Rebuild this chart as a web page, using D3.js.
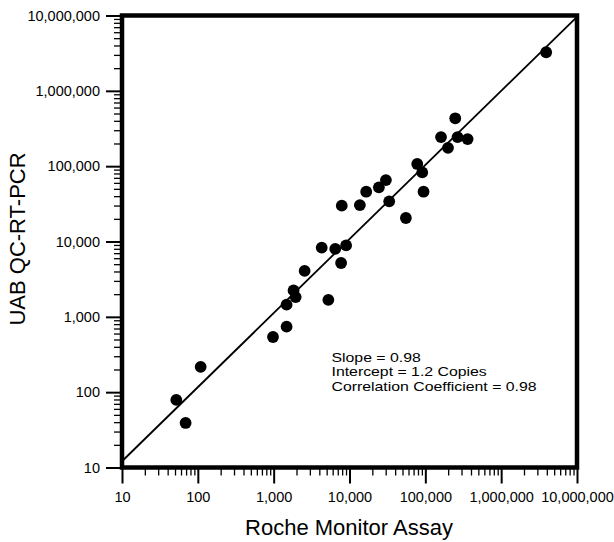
<!DOCTYPE html>
<html>
<head>
<meta charset="utf-8">
<script src="https://cdn.jsdelivr.net/npm/d3@7"></script>
<style>
  html, body { margin: 0; padding: 0; background: #fff; }
  svg { display: block; }
  text { font-family: "Liberation Sans", Arial, Helvetica, sans-serif; fill: #000; }
</style>
</head>
<body>
<script>
// ---- Data ----
const rocheMonitor = [52, 69, 109, 980, 1480, 1480, 1830, 1950, 2560, 5260,
  7750, 4300, 6490, 9020, 7910, 13700, 16600, 24400, 30200, 33400,
  55400, 78200, 91000, 94700, 199000, 161000, 266000, 361000, 248000, 3920000];
const uabQcRtPcr = [79, 39, 217, 540, 740, 1450, 2240, 1830, 4070, 1680,
  5180, 8280, 7980, 8870, 29900, 30400, 45800, 52300, 65300, 34100,
  20500, 107000, 82700, 45800, 175000, 243000, 243000, 229000, 432000, 3250000];
const fitLineX = [10, 10000000];
const fitLineY = [12.1, 9600000];
const tickValues = [10, 100, 1000, 10000, 100000, 1000000, 10000000];
const tickLabels = ["10", "100", "1,000", "10,000", "100,000", "1,000,000", "10,000,000"];
const statsLines = ["Slope = 0.98", "Intercept = 1.2 Copies", "Correlation Coefficient = 0.98"];
const xTitle = "Roche Monitor Assay";
const yTitle = "UAB QC-RT-PCR";

// ---- Layout ----
const W = 614, H = 542;
const mLeft = 122, mRight = 577, mTop = 15.5, mBottom = 467.5;

const svg = d3.select("body").append("svg").attr("width", W).attr("height", H);

const x = d3.scaleLog().domain([10, 1e7]).range([mLeft, mRight]);
const y = d3.scaleLog().domain([10, 1e7]).range([mBottom, mTop]);

// minor tick values 2..9 per decade
const minor = [];
for (let d = 10; d < 1e7; d *= 10) for (let m = 2; m <= 9; m++) minor.push(d * m);

// Y axis
const yAxis = svg.append("g").attr("transform", `translate(${mLeft},0)`);
yAxis.call(d3.axisLeft(y).tickValues(tickValues).tickFormat((d, i) => tickLabels[i])
  .tickSize(16).tickPadding(6));
yAxis.select(".domain").remove();
yAxis.attr("font-family", null).attr("font-size", null);
yAxis.selectAll(".tick line").attr("stroke", "#000").attr("stroke-width", 2);
yAxis.selectAll(".tick text").style("font-size", "14.5px");
const yMinor = svg.append("g").attr("transform", `translate(${mLeft},0)`);
yMinor.call(d3.axisLeft(y).tickValues(minor).tickFormat("").tickSize(8));
yMinor.select(".domain").remove();
yMinor.selectAll(".tick line").attr("stroke", "#000").attr("stroke-width", 1.3);

// X axis
const xAxis = svg.append("g").attr("transform", `translate(0,${mBottom})`);
xAxis.call(d3.axisBottom(x).tickValues(tickValues).tickFormat((d, i) => tickLabels[i])
  .tickSize(16).tickPadding(8));
xAxis.select(".domain").remove();
xAxis.attr("font-family", null).attr("font-size", null);
xAxis.selectAll(".tick line").attr("stroke", "#000").attr("stroke-width", 2);
xAxis.selectAll(".tick text").style("font-size", "14.5px");
const xMinor = svg.append("g").attr("transform", `translate(0,${mBottom})`);
xMinor.call(d3.axisBottom(x).tickValues(minor).tickFormat("").tickSize(8));
xMinor.select(".domain").remove();
xMinor.selectAll(".tick line").attr("stroke", "#000").attr("stroke-width", 1.3);

// Fit line
const line = d3.line().x(d => x(d[0])).y(d => y(d[1]));
svg.append("path")
  .datum(fitLineX.map((v, i) => [v, fitLineY[i]]))
  .attr("d", line)
  .attr("fill", "none").attr("stroke", "#000").attr("stroke-width", 1.8);

// Points
svg.append("g").selectAll("circle")
  .data(rocheMonitor.map((v, i) => [v, uabQcRtPcr[i]]))
  .join("circle")
  .attr("cx", d => x(d[0])).attr("cy", d => y(d[1]))
  .attr("r", 5.9).attr("fill", "#000");

// Frame
svg.append("rect")
  .attr("x", mLeft).attr("y", mTop)
  .attr("width", mRight - mLeft).attr("height", mBottom - mTop)
  .attr("fill", "none").attr("stroke", "#000").attr("stroke-width", 4.5);

// Stats annotation (slightly wide lettering as in the original)
const statsG = svg.append("g").attr("transform", "translate(331.5,361.5) scale(1.2,1)");
statsG.selectAll("text").data(statsLines).join("text")
  .attr("x", 0).attr("y", (d, i) => i * 14.8)
  .style("font-size", "13.2px")
  .text(d => d);

// Axis titles
svg.append("text").attr("x", 349).attr("y", 535)
  .attr("text-anchor", "middle").style("font-size", "22px").text(xTitle);
svg.append("text").attr("transform", "translate(25,239) rotate(-90)")
  .attr("text-anchor", "middle").style("font-size", "22px").text(yTitle);
</script>
</body>
</html>
